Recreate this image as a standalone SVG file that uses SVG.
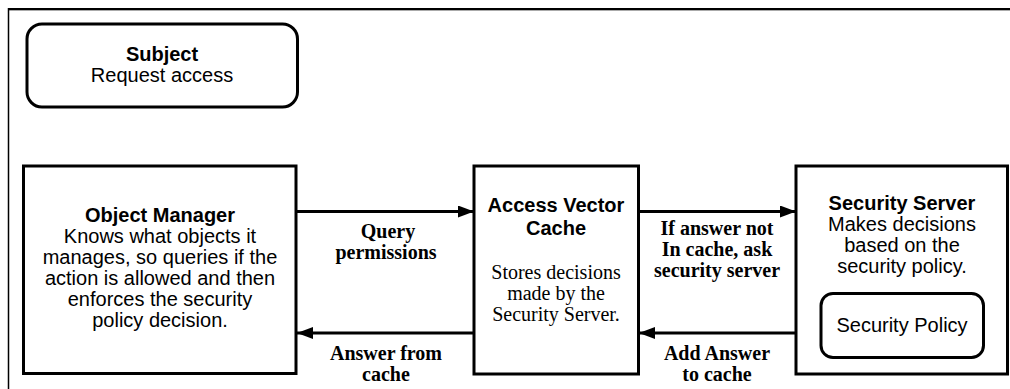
<svg xmlns="http://www.w3.org/2000/svg" width="1010" height="389" viewBox="0 0 1010 389">
  <style>
    .box { fill: #fff; stroke: #000; stroke-width: 3; }
    .sans { font-family: "Liberation Sans", Arial, sans-serif; font-size: 20px; fill: #000; text-anchor: middle; }
    .serif { font-family: "Liberation Serif", "Times New Roman", serif; font-size: 20px; fill: #000; text-anchor: middle; }
    .b { font-weight: bold; }
    .wire { stroke: #000; stroke-width: 3; fill: none; }
  </style>
  <defs>
    <marker id="head" viewBox="0 0 16 12" refX="16" refY="6" markerWidth="16" markerHeight="12" markerUnits="userSpaceOnUse" orient="auto">
      <path d="M0,0 L16,6 L0,12 Z" fill="#000"/>
    </marker>
  </defs>
  <rect width="1010" height="389" fill="#fff"/>

  <!-- outer frame: top and left edges -->
  <g id="frame">
    <line x1="8" y1="10.5" x2="1010" y2="10.5" stroke="#aaa" stroke-width="1"/>
    <line x1="8" y1="9" x2="1010" y2="9" stroke="#000" stroke-width="2"/>
    <line x1="8.5" y1="8" x2="8.5" y2="389" stroke="#000" stroke-width="1.5"/>
  </g>

  <g id="subject">
    <rect class="box" x="27" y="24" width="270.5" height="83" rx="15"/>
    <text class="sans b" x="162" y="61">Subject</text>
    <text class="sans" x="162" y="82">Request access</text>
  </g>

  <g id="object-manager">
    <rect class="box" x="23.5" y="166" width="272.5" height="207.5"/>
    <text class="sans b" x="160" y="222">Object Manager</text>
    <text class="sans" x="160" y="243">Knows what objects it</text>
    <text class="sans" x="160" y="264">manages, so queries if the</text>
    <text class="sans" x="160" y="285">action is allowed and then</text>
    <text class="sans" x="160" y="306">enforces the security</text>
    <text class="sans" x="160" y="327">policy decision.</text>
  </g>

  <g id="access-vector-cache">
    <rect class="box" x="474" y="166" width="164.5" height="208"/>
    <text class="sans b" x="556" y="212">Access Vector</text>
    <text class="sans b" x="556" y="235">Cache</text>
    <text class="serif" x="556" y="279">Stores decisions</text>
    <text class="serif" x="556" y="300">made by the</text>
    <text class="serif" x="556" y="321">Security Server.</text>
  </g>

  <g id="security-server">
    <rect class="box" x="796" y="166" width="211.5" height="208"/>
    <text class="sans b" x="902" y="210">Security Server</text>
    <text class="sans" x="902" y="231">Makes decisions</text>
    <text class="sans" x="902" y="252">based on the</text>
    <text class="sans" x="902" y="273">security policy.</text>
  </g>

  <g id="security-policy">
    <rect class="box" x="821" y="293.5" width="162.5" height="64" rx="12"/>
    <text class="sans" x="902" y="332">Security Policy</text>
  </g>

  <g id="connectors">
    <line class="wire" x1="297" y1="211.5" x2="474" y2="211.5" marker-end="url(#head)"/>
    <line class="wire" x1="474" y1="333" x2="297" y2="333" marker-end="url(#head)"/>
    <line class="wire" x1="639" y1="211.5" x2="796" y2="211.5" marker-end="url(#head)"/>
    <line class="wire" x1="796" y1="333" x2="639" y2="333" marker-end="url(#head)"/>
    <text class="serif b" x="388" y="238">Query</text>
    <text class="serif b" x="386" y="259">permissions</text>
    <text class="serif b" x="386" y="360">Answer from</text>
    <text class="serif b" x="386" y="381">cache</text>
    <text class="serif b" x="717" y="235">If answer not</text>
    <text class="serif b" x="717" y="256">In cache, ask</text>
    <text class="serif b" x="717" y="277">security server</text>
    <text class="serif b" x="717" y="360">Add Answer</text>
    <text class="serif b" x="717" y="381">to cache</text>
  </g>
</svg>
